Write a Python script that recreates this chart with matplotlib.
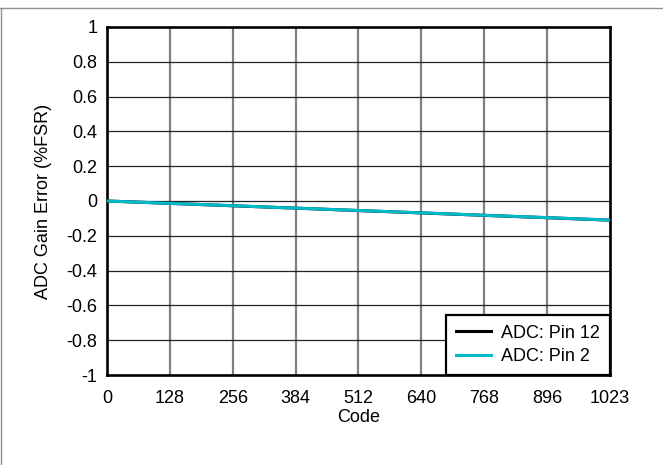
import numpy as np
import matplotlib.pyplot as plt
from matplotlib.lines import Line2D

plt.rcParams['font.family'] = ['Liberation Sans', 'DejaVu Sans']

codes = [0, 128, 256, 384, 512, 640, 768, 896, 1023]
pin12 = [0.0, -0.0135, -0.0275, -0.041, -0.0550, -0.0685, -0.0825, -0.0960, -0.1100]
pin2 = [0.0, -0.0135, -0.0270, -0.041, -0.0545, -0.0680, -0.0820, -0.0955, -0.1095]

xticks = [0, 128, 256, 384, 512, 640, 768, 896, 1023]
yticks = [1, 0.8, 0.6, 0.4, 0.2, 0, -0.2, -0.4, -0.6, -0.8, -1]

fs = 13

fig = plt.figure(figsize=(6.63, 4.65), dpi=100)
ax = fig.add_axes([107/663, 1-375/465, (609.5-107)/663, (375-27)/465])

ax.plot(codes, pin12, color='black', lw=2.2, label='ADC: Pin 12', zorder=3)
ax.plot(codes, pin2, color='#00BAC7', lw=2.2, label='ADC: Pin 2', zorder=4)

ax.set_xlim(0, 1023)
ax.set_ylim(-1, 1)
ax.set_xticks(xticks)
ax.set_xticklabels([str(t) for t in xticks])
ax.set_yticks(yticks)
ax.set_yticklabels(['1', '0.8', '0.6', '0.4', '0.2', '0', '-0.2', '-0.4', '-0.6', '-0.8', '-1'])
ax.tick_params(length=0, labelsize=fs)
ax.tick_params(axis='x', pad=11)
ax.tick_params(axis='y', pad=7)

for t in xticks[1:-1]:
    ax.axvline(t, color='#808080', lw=1.6, zorder=1)
for t in yticks[1:-1]:
    ax.axhline(t, color='#222222', lw=0.9, zorder=1)

for s in ax.spines.values():
    s.set_linewidth(1.9)
    s.set_color('black')

ax.set_xlabel('Code', fontsize=fs, labelpad=1)
ax.set_ylabel('ADC Gain Error (%FSR)', fontsize=fs, labelpad=10)

leg = ax.legend(loc='lower right', fontsize=fs, fancybox=False, framealpha=1,
                edgecolor='black', borderaxespad=0, handlelength=1.95,
                handletextpad=0.55, labelspacing=0.35, borderpad=0.55)
leg.get_frame().set_linewidth(1.6)

# outer frame lines
fig.add_artist(Line2D([0, 1], [1-8/465, 1-8/465], transform=fig.transFigure, color='#909090', lw=1.0))
fig.add_artist(Line2D([0.6/663, 0.6/663], [0, 1-8/465], transform=fig.transFigure, color='#909090', lw=1.0))

fig.savefig('out.png', dpi=100)
